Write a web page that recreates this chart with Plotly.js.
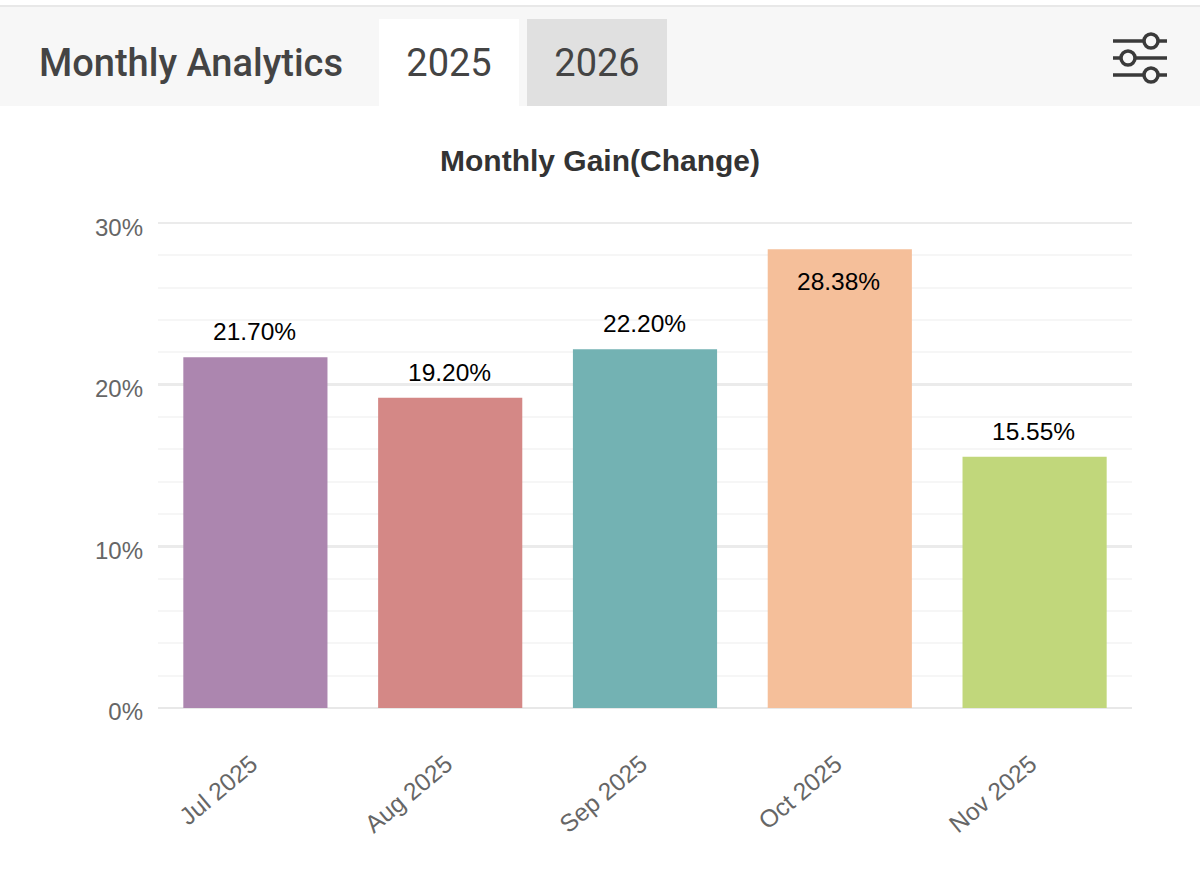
<!DOCTYPE html>
<html>
<head>
<meta charset="utf-8">
<script src="https://cdn.plot.ly/plotly-3.0.1.min.js"></script>
<style>
html,body{margin:0;padding:0;background:#fff;width:1200px;height:881px;overflow:hidden}
#chart{position:absolute;left:0;top:0;width:1200px;height:881px}
#head{position:absolute;left:0;top:5px;width:1200px;height:101px;background:#f7f7f7;border-top:2px solid #e8e8e8;box-sizing:border-box}
.t{position:absolute;font-family:Roboto,sans-serif;color:#444;white-space:nowrap}
.tab{position:absolute;top:12px;width:140px;height:87px;line-height:88px;text-align:center;font-family:Roboto,sans-serif;font-size:38px;font-weight:400;color:#444}
</style>
</head>
<body>
<div id="chart"></div>
<div id="head">
  <div class="t" style="left:39px;top:33px;font-size:38px;line-height:46px;font-weight:500">Monthly Analytics</div>
  <div class="tab" style="left:379px;background:#fff">2025</div>
  <div class="tab" style="left:527px;background:#e0e0e0">2026</div>
  <svg style="position:absolute;left:1110px;top:25px" width="60" height="60" viewBox="0 0 60 60">
    <g stroke="#3a3a3a" stroke-width="3.5" fill="#f7f7f7">
      <line x1="3" y1="9" x2="57" y2="9"/><circle cx="41" cy="9" r="7"/>
      <line x1="3" y1="26" x2="57" y2="26"/><circle cx="18" cy="26" r="7"/>
      <line x1="3" y1="43" x2="57" y2="43"/><circle cx="41" cy="43" r="7"/>
    </g>
  </svg>
</div>
<script>
const months = ["Jul 2025","Aug 2025","Sep 2025","Oct 2025","Nov 2025"];
const gains = [21.70,19.20,22.20,28.38,15.55];
const barColors = ["#ac86af","#d48886","#73b2b3","#f5bf9a","#c1d77b"];
const yTicks = [0,10,20,30];
const yTickLabels = ["0%","10%","20%","30%"];
const labelFont = "'Liberation Sans',Arial,sans-serif";

const annotations = months.map((m,i)=>{
  const inside = gains[i] > 25;
  return {
    x:m, y:gains[i], xref:'x', yref:'y', showarrow:false,
    text:gains[i].toFixed(2)+'%',
    yanchor: inside ? 'top' : 'bottom',
    yshift: inside ? -17 : 10,
    xshift: -1,
    font:{family:labelFont,size:24.5,color:'#000'}
  };
});

Plotly.newPlot('chart',[{
  type:'bar', x:months, y:gains,
  marker:{color:barColors,line:{width:0}},
  width:0.74, hoverinfo:'x+y'
}],{
  width:1200,height:881,
  paper_bgcolor:'rgba(0,0,0,0)',plot_bgcolor:'rgba(0,0,0,0)',
  margin:{l:158,r:68,t:221,b:173,pad:0},
  showlegend:false,
  title:{text:'<b>Monthly Gain(Change)</b>',x:0.5,xanchor:'center',y:0.818,yanchor:'middle',
    font:{family:labelFont,size:30,color:'#333'}},
  xaxis:{type:'category',categoryorder:'array',categoryarray:months,tickangle:-40,
    tickfont:{family:labelFont,size:24.5,color:'#666'},
    showgrid:false,zeroline:false,showline:false,ticks:'',ticklabelstandoff:36,ticklabelshift:-4},
  yaxis:{range:[0,30.13],tickmode:'array',tickvals:yTicks,ticktext:yTickLabels,
    tickfont:{family:labelFont,size:24,color:'#666'},
    gridcolor:'#ebebeb',gridwidth:2.5,zeroline:true,zerolinecolor:'#e8e8e8',zerolinewidth:2.5,
    showline:false,ticks:'',ticklabelstandoff:14,ticklabelshift:4,
    minor:{dtick:2,tick0:0,showgrid:true,gridcolor:'#f6f6f6',gridwidth:2,ticks:''}},
  annotations:annotations
},{displayModeBar:false,staticPlot:true});
</script>
</body>
</html>
